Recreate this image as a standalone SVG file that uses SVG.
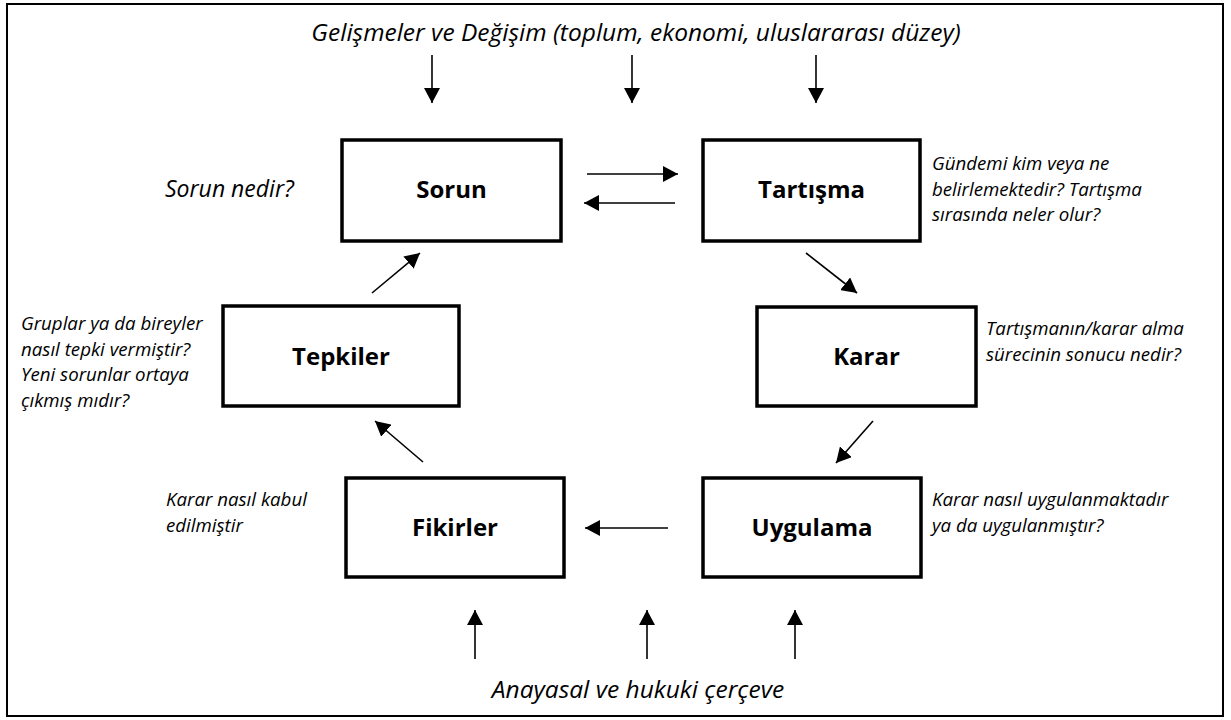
<svg xmlns="http://www.w3.org/2000/svg" width="1231" height="720" viewBox="0 0 1231 720">
<defs>
<marker id="ah" markerUnits="userSpaceOnUse" markerWidth="16" markerHeight="16" refX="15" refY="8" orient="auto">
<path d="M0,0 L15,8 L0,16 z" fill="#000"/>
</marker>
<style>
.box{fill:#fff;stroke:#000;stroke-width:3.5}
.lbl{font-family:"Open Sans","Liberation Sans",sans-serif;font-weight:bold;font-size:24px;fill:#000;text-anchor:middle}
.note{font-family:"Open Sans","Liberation Sans",sans-serif;font-style:italic;font-size:18.7px;fill:#000}
.big{font-family:"Open Sans","Liberation Sans",sans-serif;font-style:italic;font-size:24.5px;fill:#000}
.conn line{stroke:#000;stroke-width:1.6;marker-end:url(#ah)}
</style>
</defs>
<rect x="7" y="4" width="1216" height="712" fill="#fff" stroke="#000" stroke-width="2"/>
<text class="big" x="636" y="41" text-anchor="middle">Gelişmeler ve Değişim (toplum, ekonomi, uluslararası düzey)</text>
<text class="big" x="638" y="698" text-anchor="middle">Anayasal ve hukuki çerçeve</text>
<g id="sorun">
<rect class="box" x="342" y="140" width="219" height="101"/>
<text class="lbl" x="451.5" y="198">Sorun</text>
<text class="big" x="165" y="197" style="font-size:23px">Sorun nedir?</text>
</g>
<g id="tartisma">
<rect class="box" x="703" y="140" width="217" height="101"/>
<text class="lbl" x="811.5" y="198">Tartışma</text>
<text class="note" x="932" y="170">Gündemi kim veya ne</text>
<text class="note" x="932" y="195.5">belirlemektedir? Tartışma</text>
<text class="note" x="932" y="221">sırasında neler olur?</text>
</g>
<g id="karar">
<rect class="box" x="757" y="307" width="219" height="99"/>
<text class="lbl" x="866.5" y="365">Karar</text>
<text class="note" x="986" y="335">Tartışmanın/karar alma</text>
<text class="note" x="986" y="360.5">sürecinin sonucu nedir?</text>
</g>
<g id="uygulama">
<rect class="box" x="703" y="478" width="218" height="99"/>
<text class="lbl" x="812" y="536">Uygulama</text>
<text class="note" x="932" y="506">Karar nasıl uygulanmaktadır</text>
<text class="note" x="932" y="531.5">ya da uygulanmıştır?</text>
</g>
<g id="fikirler">
<rect class="box" x="346" y="478" width="218" height="99"/>
<text class="lbl" x="455" y="536">Fikirler</text>
<text class="note" x="166" y="506">Karar nasıl kabul</text>
<text class="note" x="166" y="532">edilmiştir</text>
</g>
<g id="tepkiler">
<rect class="box" x="223" y="306" width="236" height="100"/>
<text class="lbl" x="341" y="365">Tepkiler</text>
<text class="note" x="21" y="330">Gruplar ya da bireyler</text>
<text class="note" x="21" y="355.5">nasıl tepki vermiştir?</text>
<text class="note" x="21" y="381">Yeni sorunlar ortaya</text>
<text class="note" x="21" y="406.5">çıkmış mıdır?</text>
</g>
<g id="connectors" class="conn">
<line x1="432" y1="55" x2="432" y2="103"/>
<line x1="632" y1="55" x2="632" y2="103"/>
<line x1="816" y1="55" x2="816" y2="103"/>
<line x1="587" y1="174" x2="678" y2="174"/>
<line x1="675" y1="203" x2="584" y2="203"/>
<line x1="806" y1="253" x2="857" y2="293"/>
<line x1="873" y1="421" x2="836" y2="463"/>
<line x1="668" y1="528" x2="585" y2="528"/>
<line x1="423" y1="462" x2="375" y2="421"/>
<line x1="372" y1="293" x2="420" y2="253"/>
<line x1="475" y1="659" x2="475" y2="610"/>
<line x1="647" y1="659" x2="647" y2="610"/>
<line x1="795" y1="659" x2="795" y2="610"/>
</g>
</svg>
